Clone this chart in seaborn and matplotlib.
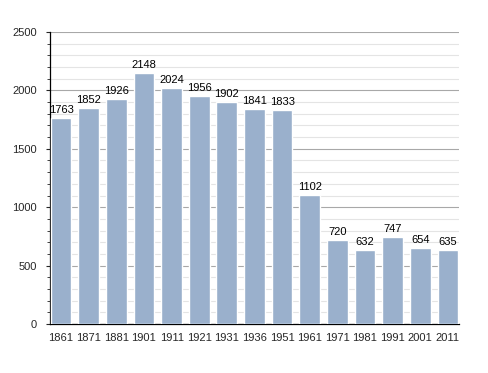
import matplotlib
matplotlib.use("Agg")
import matplotlib.pyplot as plt
from matplotlib.ticker import MultipleLocator
import seaborn as sns
import pandas as pd

# population by census year
years = ["1861", "1871", "1881", "1901", "1911", "1921", "1931", "1936",
         "1951", "1961", "1971", "1981", "1991", "2001", "2011"]
population = [1763, 1852, 1926, 2148, 2024, 1956, 1902, 1841,
              1833, 1102, 720, 632, 747, 654, 635]

df = pd.DataFrame({"year": years, "pop": population})

sns.set_style("white")
plt.rcParams["font.family"] = ["Liberation Sans", "DejaVu Sans"]

fig = plt.figure(figsize=(4.88, 3.73), dpi=100)
ax = fig.add_axes([0.1025, 0.1314, 0.838, 0.7828])

sns.barplot(data=df, x="year", y="pop", color="#9ab0cc", saturation=1,
            width=0.75, ax=ax, zorder=3)

# value labels on top of the bars
for i, v in enumerate(population):
    ax.text(i, v + 25, str(v), ha="center", va="bottom", fontsize=8, color="black", zorder=4)

ax.set_ylim(0, 2500)
ax.set_xlim(-0.4, len(years) - 0.6)
ax.yaxis.set_major_locator(MultipleLocator(500))
ax.yaxis.set_minor_locator(MultipleLocator(100))
ax.grid(True, which="major", axis="y", color="#a8a8a8", linewidth=0.8, zorder=0)
ax.grid(True, which="minor", axis="y", color="#e4e4e4", linewidth=0.8, zorder=0)
ax.set_axisbelow(True)

ax.set_xlabel("")
ax.set_ylabel("")
for s in ["top", "right"]:
    ax.spines[s].set_visible(False)
ax.spines["left"].set_color("black")
ax.spines["bottom"].set_color("black")
ax.spines["left"].set_linewidth(0.9)
ax.spines["bottom"].set_linewidth(0.9)

ax.tick_params(axis="y", which="major", left=True, length=3, width=0.8, labelsize=8, pad=6.5)
ax.tick_params(axis="y", which="minor", left=True, length=2, width=0.6)
ax.tick_params(axis="x", bottom=False, labelsize=8, pad=3)

fig.savefig("out.png", dpi=100)
